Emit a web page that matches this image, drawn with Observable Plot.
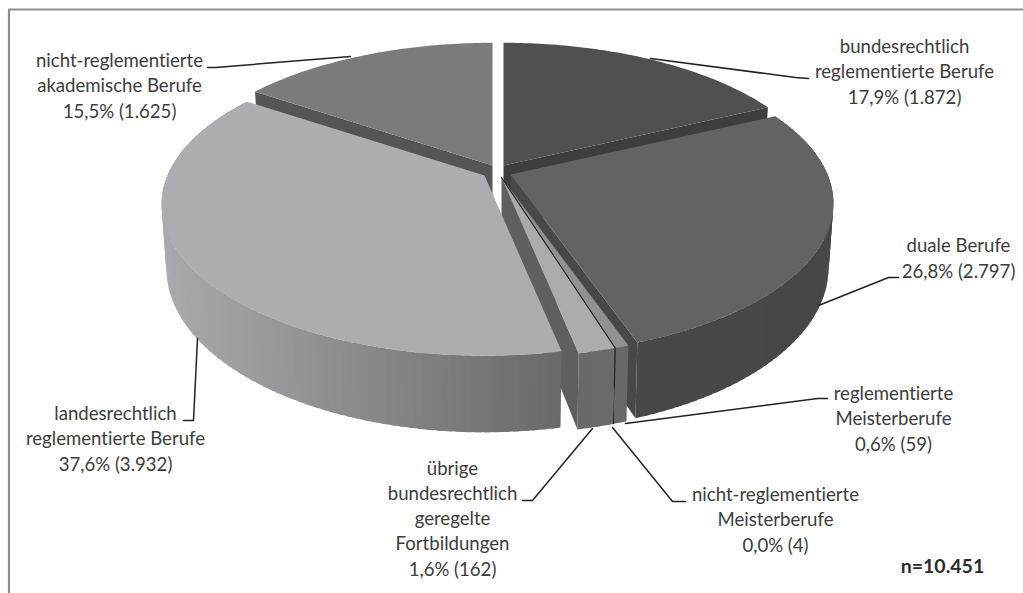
<!DOCTYPE html>
<html><head><meta charset="utf-8">
<style>html,body{margin:0;background:#fff}svg{display:block}svg text{font-variant-ligatures:none}</style>
<script src="https://cdn.jsdelivr.net/npm/d3@7"></script>
<script src="https://cdn.jsdelivr.net/npm/@observablehq/plot@0.6"></script>
</head><body><script>
// data, clockwise from twelve o'clock
const categories = ["bundesrechtlich\nreglementierte Berufe","duale Berufe","reglementierte\nMeisterberufe","nicht-reglementierte\nMeisterberufe","übrige\nbundesrechtlich\ngeregelte\nFortbildungen","landesrechtlich\nreglementierte Berufe","nicht-reglementierte\nakademische Berufe"];
const counts = [1872,2797,59,4,162,3932,1625];
const valueLabels = ["17,9% (1.872)","26,8% (2.797)","0,6% (59)","0,0% (4)","1,6% (162)","37,6% (3.932)","15,5% (1.625)"];
const totalLabel = "n=10.451";

// styling per slice
const topColors  = ["#505052","#636365","#909194","#1c1c1c","#abacaf","#acadb0","#7b7b7d"];
const wallStart  = ["#3e3e40","#464648","#68686a","#1c1c1c","#6b6b6d","#a9aaad","#555557"];
const wallEnd    = ["#3e3e40","#48484a","#68686a","#1c1c1c","#68686a","#69696b","#555557"];
const edgeColors = ["#3e3e40","#48484a","#5f5f61","#1c1c1c","#5f5f61","#555557","#555557"];
const explodeX = [6,13,4,4,4,-13,-5];
const explodeY = [-4,5,8,8,8,6,-4];

// label placement
const labelX = [904,958,893,775,452,115,119];
const labelY = [103,277,450,551,575,470,117];
const leaderX = [[650,795,808],[818,888,898],[625,817,827],[612,672,685],[592,532,522],[197,193,183],[350,215,207]];
const leaderY = [[58,77,78],[305,277,277],[423,398,398],[427,501,501],[428,500,500],[338,420,420],[56,67,67]];

// pie projection
const cx=497, cy=169, rx=317, ry=146, k=0.19, depth=62, shrink=0.985;
function P(i,theta,r,z){
  const u=r*Math.sin(theta), v=-r*Math.cos(theta), w=1-k*v;
  const s=z?shrink:1;
  return {x:cx+explodeX[i]+s*rx*u/w, y:cy+explodeY[i]+ry*v/w+(z?depth/w:0)};
}
const sum=d3.sum(counts);
const cum=d3.cumsum(counts);
const startA=i=>(i?cum[i-1]:0)/sum*2*Math.PI, endA=i=>cum[i]/sum*2*Math.PI;
const rows=[]; let polyId=0;
function poly(pts,color){polyId++;for(const p of pts)rows.push({x:p.x,y:p.y,id:polyId,color});}
function topFace(i){
  const pts=[P(i,0,0,0)],n=Math.max(2,Math.ceil((endA(i)-startA(i))*60));
  for(let j=0;j<=n;j++)pts.push(P(i,startA(i)+(endA(i)-startA(i))*j/n,1,0));
  poly(pts,topColors[i]);
}
function radial(i,th){poly([P(i,th,0,0),P(i,th,1,0),P(i,th,1,1),P(i,th,0,1)],edgeColors[i]);}
function outer(i){
  const n=Math.max(2,Math.ceil((endA(i)-startA(i))*40)), c=d3.interpolateRgb(wallStart[i],wallEnd[i]);
  const step=(endA(i)-startA(i))/n;
  const xs=d3.range(n+1).map(j=>P(i,startA(i)+step*j,1,0).x);
  const xLo=d3.min(xs), xHi=d3.max(xs);
  for(let j=0;j<n;j++){
    const a=startA(i)+step*j, b=a+step;
    // the shading follows the horizontal position on the wall
    const t=i===5?(xs[j]-xLo)/(xHi-xLo):j/n;
    const aa=Math.max(a-step*0.6,startA(i));
    poly([P(i,aa,1,0),P(i,b,1,0),P(i,b,1,1),P(i,aa,1,1)],c(t));
  }
}
// painter's order, back to front
radial(6,startA(6)); topFace(6);
radial(0,endA(0)); topFace(0);
radial(1,endA(1)); outer(1); topFace(1);
radial(4,endA(4));
outer(5); topFace(5);
outer(4); outer(2);
topFace(4); topFace(2);

// the nearly empty 0,0 % slice shows only as a dark line over top and wall
const midZero=(startA(3)+endA(3))/2;
const zeroEdge=[P(3,midZero,0,0),P(3,midZero,1,0),P(3,midZero,1,1)];

const leaders=leaderX.flatMap((xs,i)=>xs.map((x,j)=>({x,y:leaderY[i][j],i})));
const labels=categories.map((c,i)=>({text:c+"\n"+valueLabels[i],x:labelX[i],y:labelY[i]}));
const font="Lato, Carlito, sans-serif";

const chart=Plot.plot({
  width:1023,height:593,margin:0,
  x:{domain:[0,1023],axis:null},
  y:{domain:[593,0],axis:null},
  color:{type:"identity"},
  style:{background:"#fff"},
  marks:[
    Plot.line([{x:8.5,y:593},{x:8.5,y:9},{x:1023,y:9}],{x:"x",y:"y",stroke:"#8e8e92",strokeWidth:2.2}),
    Plot.line(rows,{x:"x",y:"y",z:"id",fill:"color",curve:"linear"}),
    Plot.line(zeroEdge,{x:"x",y:"y",stroke:"#222",strokeWidth:1.1}),
    Plot.line(leaders,{x:"x",y:"y",z:"i",stroke:"#222",strokeWidth:1.5}),
    Plot.text(labels,{x:"x",y:"y",text:"text",lineAnchor:"bottom",lineHeight:1.345,fontSize:18.6,fontFamily:font,fill:"#3c3c3c"}),
    Plot.text([totalLabel],{x:()=>942,y:()=>572,text:d=>d,lineAnchor:"bottom",fontSize:19.5,fontWeight:"bold",fontFamily:font,fill:"#2c2c2c"})
  ]
});
document.body.append(chart);
</script></body></html>
